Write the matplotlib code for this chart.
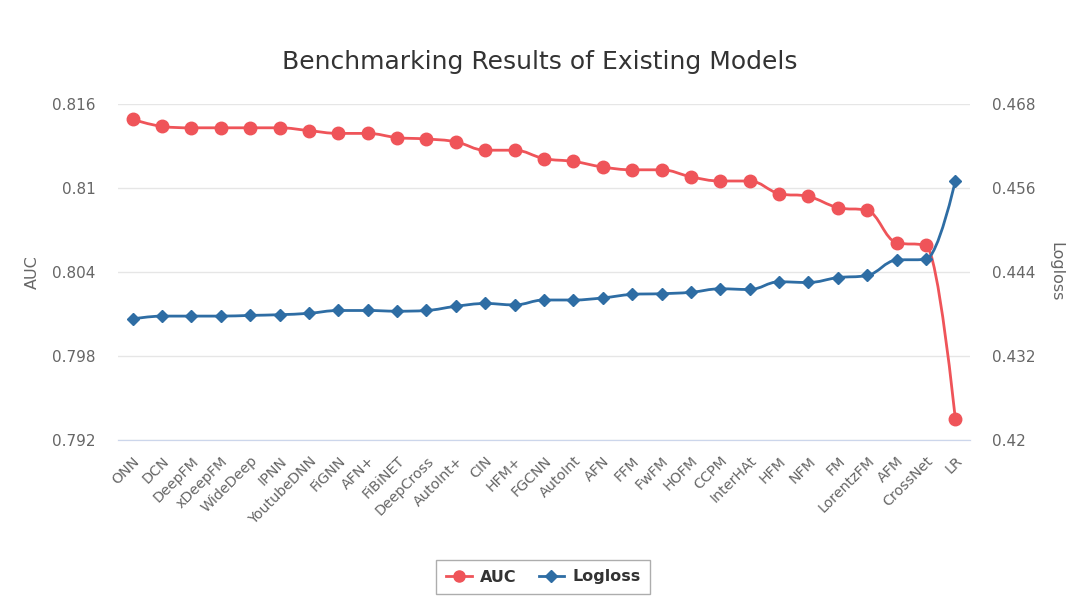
import matplotlib
matplotlib.use("Agg")
import matplotlib.pyplot as plt
from matplotlib.path import Path
from matplotlib.patches import PathPatch
from matplotlib.lines import Line2D

# data
models = ["ONN", "DCN", "DeepFM", "xDeepFM", "WideDeep", "IPNN", "YoutubeDNN",
          "FiGNN", "AFN+", "FiBiNET", "DeepCross", "AutoInt+", "CIN", "HFM+",
          "FGCNN", "AutoInt", "AFN", "FFM", "FwFM", "HOFM", "CCPM", "InterHAt",
          "HFM", "NFM", "FM", "LorentzFM", "AFM", "CrossNet", "LR"]
auc = [0.8149, 0.8144, 0.8143, 0.8143, 0.8143, 0.8143, 0.8141,
       0.8139, 0.8139, 0.8136, 0.8135, 0.8133, 0.8127, 0.8127,
       0.8121, 0.8119, 0.8115, 0.8113, 0.8113, 0.8108, 0.8105, 0.8105,
       0.8096, 0.8094, 0.8086, 0.8084, 0.8061, 0.8059, 0.7935]
logloss = [0.4373, 0.4377, 0.4377, 0.4377, 0.4378, 0.4379, 0.4381,
           0.4385, 0.4385, 0.4384, 0.4385, 0.4391, 0.4395, 0.4393,
           0.4400, 0.4400, 0.4403, 0.4408, 0.4409, 0.4411, 0.4416, 0.4415,
           0.4426, 0.4425, 0.4432, 0.4435, 0.4457, 0.4458, 0.4570]
auc_ticks = [0.792, 0.798, 0.804, 0.81, 0.816]
logloss_ticks = [0.42, 0.432, 0.444, 0.456, 0.468]

RED = "#ef5459"
BLUE = "#2e6da4"
GREY = "#666666"


def spline_path(xs, ys, smooth=1.5):
    """bezier path through the points, same smoothing idea as a highcharts spline"""
    n = len(xs)
    left = [None] * n
    right = [None] * n
    d = smooth + 1
    for i in range(1, n - 1):
        x, y = xs[i], ys[i]
        lx, ly = xs[i - 1], ys[i - 1]
        nx, ny = xs[i + 1], ys[i + 1]
        lcx = (smooth * x + lx) / d
        lcy = (smooth * y + ly) / d
        rcx = (smooth * x + nx) / d
        rcy = (smooth * y + ny) / d
        if rcx != lcx:
            corr = (rcy - lcy) * (rcx - x) / (rcx - lcx) + y - rcy
            lcy += corr
            rcy += corr
            if lcy > ly and lcy > y:
                lcy = max(ly, y)
                rcy = 2 * y - lcy
            elif lcy < ly and lcy < y:
                lcy = min(ly, y)
                rcy = 2 * y - lcy
            if rcy > ny and rcy > y:
                rcy = max(ny, y)
                lcy = 2 * y - rcy
            elif rcy < ny and rcy < y:
                rcy = min(ny, y)
                lcy = 2 * y - rcy
        left[i] = (lcx, lcy)
        right[i] = (rcx, rcy)
    verts = [(xs[0], ys[0])]
    codes = [Path.MOVETO]
    for i in range(1, n):
        c1 = right[i - 1] if right[i - 1] is not None else (xs[i - 1], ys[i - 1])
        c2 = left[i] if left[i] is not None else (xs[i], ys[i])
        verts += [c1, c2, (xs[i], ys[i])]
        codes += [Path.CURVE4] * 3
    return Path(verts, codes)


plt.rcParams["font.family"] = ["DejaVu Sans"]

fig = plt.figure(figsize=(10.8, 6.12), dpi=100)
ax1 = fig.add_axes([118 / 1080, 1 - 440 / 612, 852 / 1080, 336 / 612])
ax2 = ax1.twinx()

x = list(range(len(models)))

ax1.add_patch(PathPatch(spline_path(x, auc), fill=False, edgecolor=RED, lw=2, zorder=3))
ax1.plot(x, auc, ls="none", marker="o", ms=9, color=RED, zorder=4)
ax2.add_patch(PathPatch(spline_path(x, logloss), fill=False, edgecolor=BLUE, lw=2, zorder=3))
ax2.plot(x, logloss, ls="none", marker="D", ms=6, color=BLUE, zorder=4)

ax1.set_xlim(-0.5, len(models) - 0.5)
ax1.set_ylim(auc_ticks[0], auc_ticks[-1])
ax2.set_ylim(logloss_ticks[0], logloss_ticks[-1])
ax1.set_yticks(auc_ticks)
ax1.set_yticklabels([f"{t:g}" for t in auc_ticks])
ax2.set_yticks(logloss_ticks)
ax2.set_yticklabels([f"{t:g}" for t in logloss_ticks])

ax1.grid(axis="y", color="#e6e6e6", lw=1)
ax1.set_axisbelow(True)
for ax in (ax1, ax2):
    for s in ("top", "left", "right"):
        ax.spines[s].set_visible(False)
    ax.spines["bottom"].set_color("#ccd6eb")
    ax.tick_params(axis="y", length=0, labelsize=11, labelcolor=GREY)
ax1.tick_params(axis="y", pad=16)
ax2.tick_params(axis="y", pad=16)

ax1.set_xticks(x)
ax1.set_xticklabels(models, rotation=45, ha="right", va="top",
                    rotation_mode="anchor", fontsize=10.3, color=GREY)
ax1.tick_params(axis="x", length=0, pad=10)

ax1.set_ylabel("AUC", fontsize=11.5, color=GREY, labelpad=9)
ax2.set_ylabel("Logloss", fontsize=11.5, color=GREY, rotation=270, labelpad=20)

fig.text(0.5, 1 - 62 / 612, "Benchmarking Results of Existing Models",
         ha="center", va="center", fontsize=18, color="#333333")

handles = [Line2D([], [], color=RED, lw=2, marker="o", ms=8),
           Line2D([], [], color=BLUE, lw=2, marker="D", ms=6)]
leg = fig.legend(handles, ["AUC", "Logloss"], loc="center", ncol=2,
                 bbox_to_anchor=(0.503, 1 - 577 / 612), frameon=True,
                 fancybox=False, edgecolor="#999999", handlelength=1.6,
                 handletextpad=0.5, columnspacing=1.4,
                 prop={"weight": "bold", "size": 11.5}, borderpad=0.6)
for t in leg.get_texts():
    t.set_color("#333333")

fig.savefig("out.png", dpi=100)
